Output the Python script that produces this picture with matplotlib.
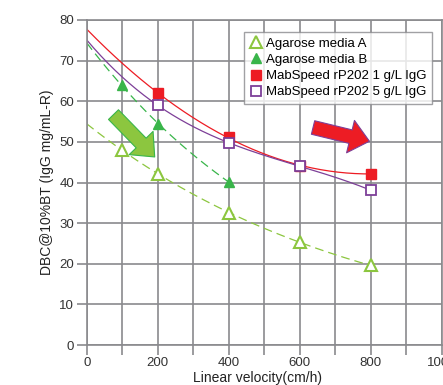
import numpy as np
import matplotlib
matplotlib.use('Agg')
import matplotlib.pyplot as plt
from matplotlib.patches import FancyArrowPatch

plt.rcParams['font.family'] = ['Liberation Sans', 'DejaVu Sans']

# measured points (cm/h, mg/mL-R)
vel_a = [100, 200, 400, 600, 800]
dbc_a = [48.0, 42.2, 32.5, 25.3, 19.6]
vel_b = [100, 200, 400]
dbc_b = [64.0, 54.3, 40.2]
vel_r1 = [200, 400, 600, 800]
dbc_r1 = [62.0, 51.2, 44.0, 42.2]
vel_r5 = [200, 400, 600, 800]
dbc_r5 = [59.0, 49.8, 44.0, 38.1]

labels = ['Agarose media A', 'Agarose media B',
          'MabSpeed rP202 1 g/L IgG', 'MabSpeed rP202 5 g/L IgG']

LIGHT_GREEN = '#8cc63f'
GREEN = '#39b54a'
RED = '#ed1c24'
PURPLE = '#7d3f98'
GRID = '#8a8a8d'


def exp_trend(x, y, x0, x1):
    k, ln_a = np.polyfit(x, np.log(y), 1)
    xs = np.linspace(x0, x1, 200)
    return xs, np.exp(ln_a + k * xs)


def poly_trend(x, y, deg, x0, x1):
    c = np.polyfit(x, y, deg)
    xs = np.linspace(x0, x1, 200)
    return xs, np.polyval(c, xs)


fig = plt.figure(figsize=(4.43, 3.85), dpi=100)
ax = fig.add_axes([86.7 / 443, 1 - 345 / 385, 355 / 443, 325 / 385])

# trend lines
xs, ys = exp_trend(vel_a, dbc_a, 0, 800)
ax.plot(xs, ys, color=LIGHT_GREEN, lw=0.9, dashes=(7, 4))
xs, ys = exp_trend(vel_b, dbc_b, 0, 400)
ax.plot(xs, ys, color=GREEN, lw=0.9, dashes=(7, 4))
xs, ys = poly_trend(vel_r1, dbc_r1, 2, 0, 800)
ax.plot(xs, ys, color=RED, lw=0.9)
xs, ys = poly_trend(vel_r5, dbc_r5, 3, 0, 800)
ax.plot(xs, ys, color=PURPLE, lw=0.9)

# markers
ax.plot(vel_a, dbc_a, ls='none', marker='^', ms=8, mfc='white', mec=LIGHT_GREEN, mew=1.5,
        label=labels[0], zorder=5)
ax.plot(vel_b, dbc_b, ls='none', marker='^', ms=7, mfc=GREEN, mec=GREEN,
        label=labels[1], zorder=5)
ax.plot(vel_r1, dbc_r1, ls='none', marker='s', ms=6.5, mfc=RED, mec=RED,
        label=labels[2], zorder=5)
ax.plot(vel_r5, dbc_r5, ls='none', marker='s', ms=7, mfc='white', mec=PURPLE, mew=1.3,
        label=labels[3], zorder=5)

# big arrows
ax.add_patch(FancyArrowPatch((70, 57.2), (197, 45.8),
                             arrowstyle='simple,head_width=2.4,head_length=1.4,tail_width=1.0',
                             mutation_scale=10, fc=LIGHT_GREEN, ec=GREEN, lw=0.8, zorder=6))
ax.add_patch(FancyArrowPatch((630, 53.7), (804, 50.0),
                             arrowstyle='simple,head_width=2.4,head_length=1.4,tail_width=1.0',
                             mutation_scale=10, fc=RED, ec=PURPLE, lw=0.8, zorder=6))

ax.set_xlim(0, 1000)
ax.set_ylim(0, 80)
ax.set_xticks(np.arange(0, 1001, 100))
ax.set_xticklabels([str(v) if v % 200 == 0 else '' for v in range(0, 1001, 100)])
ax.set_yticks(np.arange(0, 81, 10))
ax.grid(True, color=GRID, lw=1.2)
ax.set_axisbelow(True)
for s in ax.spines.values():
    s.set_color(GRID)
    s.set_linewidth(1.2)
ax.tick_params(colors=GRID, length=7.5, width=1.2, labelcolor='#333333', labelsize=9.5, pad=1.5)

ax.set_ylabel('DBC@10%BT (IgG mg/mL-R)', fontsize=10, color='#222222', labelpad=4)
ax.set_xlabel('Linear velocity(cm/h)', fontsize=10, color='#222222', va='center')
ax.xaxis.set_label_coords((257.5 - 86.7) / 355, -0.102)

leg = ax.legend(loc='upper right', bbox_to_anchor=(0.972, 0.962), borderaxespad=0,
                fontsize=9.5, frameon=True, fancybox=False, handlelength=1.0,
                handletextpad=0.25, labelspacing=0.3, borderpad=0.4)
leg.get_frame().set_edgecolor(GRID)
leg.get_frame().set_linewidth(1.0)

fig.savefig('out.png', dpi=100)
